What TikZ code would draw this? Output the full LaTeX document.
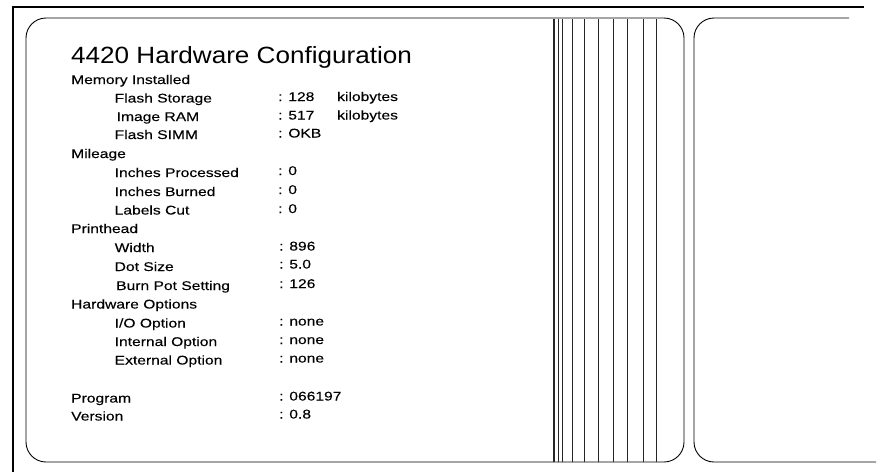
\documentclass[tikz,border=0pt]{standalone}
\usepackage{fontspec}
\setmainfont{Liberation Sans}
\newfontfamily\bodyfont[FakeStretch=1.24,FakeBold=0.15]{Liberation Sans}
\newfontfamily\titlefont[FakeStretch=1.11]{Liberation Sans}
\begin{document}
\begin{tikzpicture}[x=1pt,y=-1pt,
  txt/.style={anchor=base west,inner sep=0pt,font=\bodyfont\fontsize{12.6}{14}\selectfont,text=black},
  ttl/.style={anchor=base west,inner sep=0pt,font=\titlefont\fontsize{23.5}{27}\selectfont,text=black},
  frame/.style={line width=2.4pt,black},
  panel/.style={line width=0.9pt,black,rounded corners=20pt},
  stripe/.style={line width=0.8pt,black!85}]
\useasboundingbox (0,0) rectangle (889,472);
% outer frame
\draw[frame] (864,7) -- (13,7) -- (13,472);
% panels
\draw[panel] (26,18) rectangle (684,462);
\draw[panel] (849,18) -- (694,18) -- (694,462) -- (876,462);
% stripes
\foreach \x in {553,554.6,558,562.5,572,584,598,613,627,643,656}
  \draw[stripe] (\x,19) -- (\x,461.5);
% title
\node[ttl] (title) at (71,63.5) {4420 Hardware Configuration};
% memory
\node[txt] (mem) at (71,84) {Memory Installed};
\node[txt] (fs) at (114.5,102.5) {Flash Storage};
\node[txt] (fsv) at (278,101) {: 128};
\node[txt] (fsk) at (337,101) {kilobytes};
\node[txt] (ir) at (116.5,121) {Image RAM};
\node[txt] (irv) at (278,119.5) {: 517};
\node[txt] (irk) at (337,119.5) {kilobytes};
\node[txt] (sim) at (114.5,139) {Flash SIMM};
\node[txt] (simv) at (278,137.5) {: OKB};
% mileage
\node[txt] (mil) at (71,158) {Mileage};
\node[txt] (ip) at (114.5,177) {Inches Processed};
\node[txt] (ipv) at (278,175) {: 0};
\node[txt] (ib) at (114.5,196) {Inches Burned};
\node[txt] (ibv) at (278,194) {: 0};
\node[txt] (lc) at (114.5,214.5) {Labels Cut};
\node[txt] (lcv) at (278,213) {: 0};
% printhead
\node[txt] (ph) at (71,233) {Printhead};
\node[txt] (wd) at (114.5,252) {Width};
\node[txt] (wdv) at (279,250.5) {: 896};
\node[txt] (ds) at (114.5,271) {Dot Size};
\node[txt] (dsv) at (279,268.5) {: 5.0};
\node[txt] (bp) at (116,290) {Burn Pot Setting};
\node[txt] (bpv) at (279,288) {: 126};
% hardware options
\node[txt] (ho) at (71,308.5) {Hardware Options};
\node[txt] (io) at (114.5,327.5) {I/O Option};
\node[txt] (iov) at (279,325.5) {: none};
\node[txt] (io2) at (114.5,346) {Internal Option};
\node[txt] (io2v) at (279,344) {: none};
\node[txt] (eo) at (114.5,364.5) {External Option};
\node[txt] (eov) at (279,362.5) {: none};
% program
\node[txt] (pr) at (71,402.5) {Program};
\node[txt] (prv) at (279,400.5) {: 066197};
\node[txt] (ve) at (71,420.5) {Version};
\node[txt] (vev) at (279,418.5) {: 0.8};
\end{tikzpicture}
\end{document}
